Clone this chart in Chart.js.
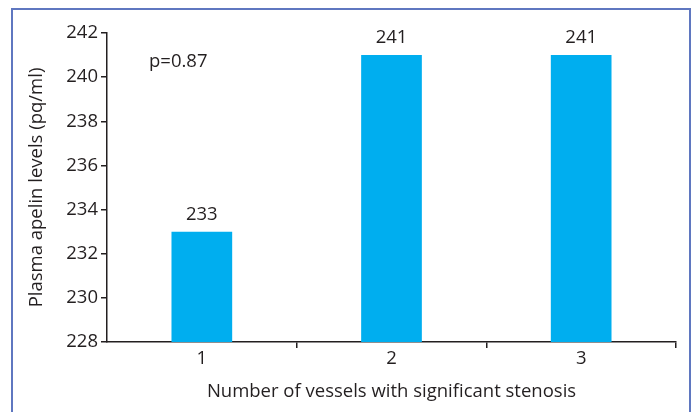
<!DOCTYPE html>
<html><head><meta charset="utf-8">
<script src="https://cdn.jsdelivr.net/npm/chart.js@4"></script>
<style>
html,body{margin:0;padding:0;background:#fff;width:696px;height:412px;overflow:hidden;}
#frame{position:absolute;left:11px;top:8px;width:680px;height:420px;border:2px solid #5f77c0;box-sizing:border-box;}
#wrap{position:absolute;left:0;top:0;width:696px;height:412px;}
</style></head>
<body>
<div id="frame"></div>
<div id="wrap"><canvas id="c" width="696" height="412"></canvas></div>
<script>
const categories = ["1", "2", "3"];
const apelinValues = [233, 241, 241];
const yTicks = [228, 230, 232, 234, 236, 238, 240, 242];
const pValueText = "p=0.87";
const xTitle = "Number of vessels with significant stenosis";
const yTitle = "Plasma apelin levels (pq/ml)";

const FONT = "'Open Sans', 'Noto Sans', sans-serif";
const FS = 18.5;
const TXT = "#231f20";

const labelPlugin = {
  id: 'labels',
  afterDatasetsDraw(chart) {
    const ctx = chart.ctx;
    const meta = chart.getDatasetMeta(0);
    ctx.save();
    ctx.font = FS + "px " + FONT;
    ctx.fillStyle = TXT;
    ctx.textAlign = 'center';
    ctx.textBaseline = 'bottom';
    meta.data.forEach((bar, i) => {
      ctx.fillText(String(apelinValues[i]), bar.x, bar.y - 8);
    });
    ctx.textAlign = 'left';
    ctx.textBaseline = 'middle';
    const ys = chart.scales.y;
    ctx.fillText(pValueText, chart.chartArea.left + 42, ys.getPixelForValue(240.7));
    ctx.restore();
  }
};

new Chart(document.getElementById('c'), {
  type: 'bar',
  data: {
    labels: categories,
    datasets: [{ data: apelinValues, backgroundColor: '#00aeef', borderWidth: 0,
      categoryPercentage: 1, barPercentage: 0.32 }]
  },
  options: {
    responsive: false,
    animation: false,
    devicePixelRatio: 1,
    layout: { padding: { top: 33, right: 20, left: 26, bottom: 0 } },
    plugins: { legend: { display: false }, tooltip: { enabled: false } },
    scales: {
      x: {
        offset: true,
        grid: {
          offset: true,
          drawOnChartArea: false,
          drawTicks: true,
          tickLength: 6,
          tickColor: (c) => (c.index === 0 || c.index === categories.length) ? 'rgba(0,0,0,0)' : TXT,
          lineWidth: 1.5
        },
        border: { color: TXT, width: 1.5 },
        ticks: { color: TXT, font: { family: FONT, size: FS }, padding: 0 },
        title: { display: true, text: xTitle, color: TXT, font: { family: FONT, size: FS }, padding: { top: 4, bottom: 9 } },
        afterFit(s) { s.height = 70; }
      },
      y: {
        min: 228, max: 242,
        afterBuildTicks(s) { s.ticks = yTicks.map(v => ({ value: v })); },
        grid: { drawOnChartArea: false, drawTicks: true, tickLength: 6, tickColor: TXT, lineWidth: 1.5 },
        border: { color: TXT, width: 1.5 },
        ticks: { color: TXT, font: { family: FONT, size: FS }, padding: 3 },
        title: { display: true, text: yTitle, color: TXT, font: { family: FONT, size: FS }, padding: { top: 0, bottom: 0 } },
        afterFit(s) { s.width = 81; }
      }
    }
  },
  plugins: [labelPlugin]
});
</script>
</body></html>
